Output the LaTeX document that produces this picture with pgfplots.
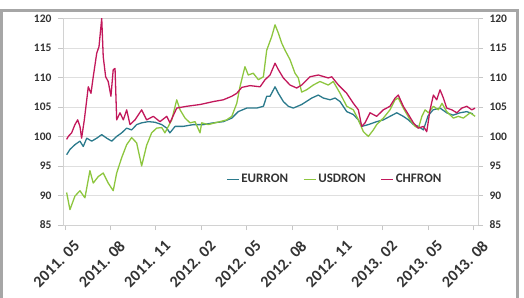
\documentclass[border=0pt]{standalone}
\usepackage{fontspec}
\setmainfont{Carlito}
\usepackage{pgfplots}
\pgfplotsset{compat=1.18}
\definecolor{eur}{HTML}{2B7A8C}
\definecolor{usd}{HTML}{8DC63F}
\definecolor{chf}{HTML}{C2185B}
\definecolor{txt}{HTML}{333333}
\definecolor{frame}{HTML}{A6A6A6}
\begin{document}
\begin{tikzpicture}[x=1pt,y=1pt]
\path[use as bounding box] (0,0) rectangle (524,297);
\draw[frame, line width=3pt] (1.5,-5) -- (1.5,286.5) -- (517.5,286.5) -- (517.5,-5);
\begin{axis}[
  at={(63pt,72pt)}, anchor=south west,
  scale only axis, width=415pt, height=206.7pt,
  xmin=-0.13, xmax=27.31, ymin=85, ymax=120,
  xtick={0,3,6,9,12,15,18,21,24,27},
  xticklabels={2011. 05,2011. 08,2011. 11,2012. 02,2012. 05,2012. 08,2012. 11,2013. 02,2013. 05,2013. 08},
  ytick={85,90,95,100,105,110,115,120},
  xtick pos=bottom, ytick pos=left,
  tick align=outside, major tick length=5pt,
  tick style={gray!45, line width=0.6pt},
  ymajorgrids, grid style={gray!25, line width=0.6pt},
  axis line style={gray!35, line width=0.6pt},
  /pgf/number format/assume math mode=true,
  yticklabel style={font=\fontsize{11.5}{11.5}\selectfont\bfseries, text=txt, xshift=-3pt},
  xticklabel style={font=\fontsize{16}{16}\selectfont\bfseries, text=txt, rotate=45, anchor=east, xshift=-1pt, yshift=-18pt, inner sep=0pt},
  legend style={at={(rel axis cs:0.655,0.222)}, anchor=center, draw=none, fill=none,
    font=\fontsize{13}{13}\selectfont\bfseries, text=txt, legend columns=3,
    /tikz/every even column/.append style={column sep=13pt}},
  legend image code/.code={\draw[#1, line width=1.2pt] (0pt,0pt) -- (12pt,0pt);},
  every axis plot/.append style={line width=1.3pt, line join=round},
]
\addplot[eur] coordinates {
(0.11,96.9)(0.33,97.8)(0.66,98.6)(0.99,99.2)(1.21,98.3)(1.44,99.7)(1.77,99.2)(2.10,99.7)(2.43,100.3)(2.76,99.7)(3.09,99.2)(3.42,100)(3.75,100.6)(4.08,101.4)(4.41,101.1)(4.74,102)(5.07,102.3)(5.51,102.5)(5.95,102.4)(6.40,102)(6.73,101.4)(6.94,100.6)(7.28,101.7)(7.82,101.7)(8.49,102)(9.15,102)(9.81,102.3)(10.47,102.5)(11.03,103.1)(11.46,104.2)(12.02,104.8)(12.68,104.8)(13.12,105.1)(13.34,106.8)(13.56,106.8)(13.89,108.4)(14.11,107.3)(14.44,105.9)(14.77,105.1)(15.10,104.8)(15.65,105.4)(16.32,106.5)(16.75,107)(17.08,106.5)(17.53,106.2)(17.86,106.5)(18.19,105.9)(18.63,104.2)(19.07,103.7)(19.40,102.8)(19.62,101.7)(20.06,102)(20.61,102.5)(21.05,102.8)(21.49,103.4)(21.94,104)(22.37,103.4)(22.71,102.8)(23.04,102)(23.37,101.7)(23.70,101.1)(24.01,103.5)(24.34,104.5)(24.80,104.8)(25.24,104)(25.66,103.6)(26.12,104)(26.57,104.2)(26.98,103.8)
};
\addlegendentry{EURRON}
\addplot[usd] coordinates {
(0.11,90.5)(0.33,87.6)(0.66,89.9)(0.99,90.8)(1.32,89.6)(1.65,94.2)(1.87,92.1)(2.20,93.2)(2.53,93.8)(2.86,92.1)(3.19,90.8)(3.42,93.8)(3.75,96.4)(4.08,98.6)(4.41,99.8)(4.74,98.9)(5.07,95)(5.40,98.5)(5.73,100.6)(6.06,101.4)(6.40,101.5)(6.61,100.6)(7.06,102.8)(7.39,106.2)(7.61,104.5)(7.94,103.1)(8.27,102.3)(8.60,102.5)(8.93,100.6)(9.04,102.3)(9.48,102)(9.92,102.3)(10.25,102.5)(10.69,102.8)(11.03,103.4)(11.36,105.6)(11.57,108.4)(11.90,111.8)(12.12,110.4)(12.45,110.7)(12.79,109.6)(13.12,110.1)(13.34,114.6)(13.67,116.9)(13.89,118.9)(14.11,117.5)(14.33,115.8)(14.55,114.6)(14.88,113)(15.21,110.7)(15.43,109.9)(15.65,107.5)(15.98,107.9)(16.42,108.7)(16.86,109.3)(17.41,108.7)(17.74,109.3)(18.19,107.3)(18.63,105.1)(19.07,104.5)(19.40,102.8)(19.73,100.8)(20.06,100)(20.39,101.1)(20.61,102)(21.05,103.1)(21.49,104.5)(21.83,106.2)(22.04,106.5)(22.37,104.8)(22.82,102.8)(23.15,101.7)(23.37,101.4)(23.60,103.4)(23.81,104.5)(24.03,104)(24.36,105.1)(24.69,104.5)(24.93,105.6)(25.24,104.2)(25.68,103.1)(26.01,103.4)(26.34,103.1)(26.79,104)(27.12,103.4)
};
\addlegendentry{USDRON}
\addplot[chf] coordinates {
(0.11,99.5)(0.22,100)(0.44,100.6)(0.66,102)(0.84,102.8)(0.99,101.7)(1.10,99.7)(1.28,102.8)(1.44,106.2)(1.54,108.4)(1.72,107.3)(1.87,110.1)(2.10,114.1)(2.25,115.2)(2.43,120)(2.53,113.5)(2.69,110.1)(2.86,109.3)(3.04,106.8)(3.19,111.3)(3.31,111.5)(3.42,102.8)(3.64,104)(3.86,102.8)(4.08,104.5)(4.30,102)(4.63,102.8)(5.07,104.5)(5.40,102.8)(5.84,103.4)(6.28,102.5)(6.73,103.4)(6.94,102.3)(7.39,104.8)(8.05,105.1)(8.93,105.4)(9.81,105.9)(10.47,106.2)(11.03,106.8)(11.36,107.3)(11.69,108.3)(12.24,108.6)(12.90,108.4)(13.23,109.6)(13.56,110.4)(13.89,112.4)(14.11,111.3)(14.44,109.9)(14.88,108.7)(15.32,108.2)(15.65,108.7)(16.20,110.1)(16.75,110.4)(17.41,109.9)(17.64,110.1)(18.08,108.7)(18.63,107.3)(19.07,105.6)(19.40,104.5)(19.62,101.7)(19.84,102.3)(20.17,104)(20.61,103.4)(21.05,104.5)(21.49,105.1)(21.83,106.5)(22.04,107)(22.37,105.1)(22.71,103.7)(23.04,102.3)(23.37,101.4)(23.70,101.7)(23.92,100.8)(24.14,104.5)(24.36,107)(24.58,106.2)(24.80,107.9)(25.02,106.5)(25.24,104.8)(25.58,104.5)(25.91,104)(26.24,104.8)(26.57,105.1)(26.90,104.5)(27.12,104.8)
};
\addlegendentry{CHFRON}
\end{axis}
\begin{axis}[
  at={(63pt,72pt)}, anchor=south west,
  scale only axis, width=415pt, height=206.7pt,
  xmin=-0.13, xmax=27.31, ymin=85, ymax=120,
  hide x axis,
  axis y line*=right,
  ytick={85,90,95,100,105,110,115,120},
  tick align=outside, major tick length=5pt,
  tick style={gray!45, line width=0.6pt},
  axis line style={gray!35, line width=0.6pt},
  /pgf/number format/assume math mode=true,
  yticklabel style={font=\fontsize{11.5}{11.5}\selectfont\bfseries, text=txt, xshift=3pt},
]
\addplot[draw=none] coordinates {(0,100)};
\end{axis}
\end{tikzpicture}
\end{document}
